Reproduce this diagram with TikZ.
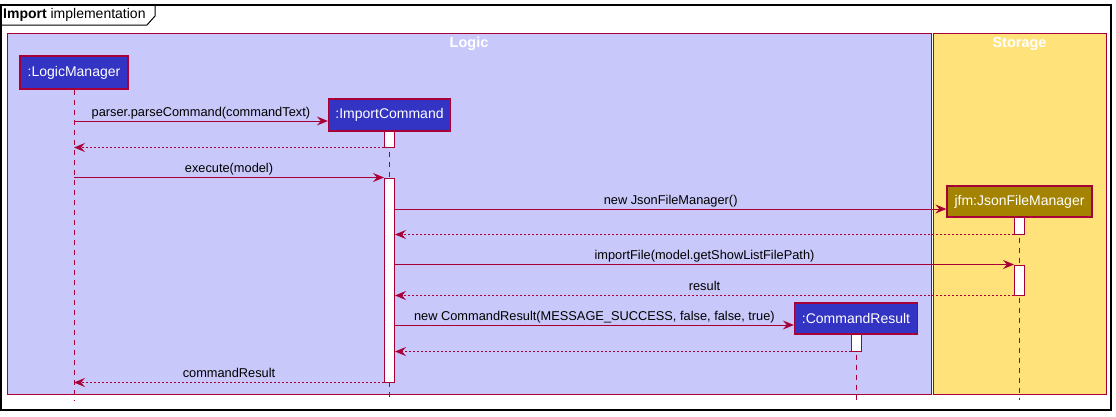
\documentclass[tikz,border=0pt]{standalone}
\usepackage{fontspec}
\setmainfont{Liberation Sans}
\usetikzlibrary{arrows.meta,positioning,calc}
\definecolor{umlred}{HTML}{A80036}
\definecolor{logicblue}{HTML}{3333C4}
\definecolor{softlogic}{HTML}{C8C8FA}
\definecolor{storagegold}{HTML}{A38300}
\definecolor{softstorage}{HTML}{FFE27A}

\tikzset{
  actor/.style={draw=umlred, line width=1.3pt, text=white, font=\fontsize{14}{16}\selectfont, inner sep=0pt},
  actbar/.style={draw=umlred, fill=white, line width=1pt, minimum width=10pt, inner sep=0pt},
  lifeline/.style={draw=umlred, line width=1pt, dash pattern=on 5pt off 5pt},
  call/.style={draw=umlred, line width=1pt, -{Stealth[length=11pt,width=9pt,inset=4pt]}},
  reply/.style={call, dash pattern=on 2pt off 2pt},
  msglabel/.style={above, inner sep=1.5pt, text depth=2.7pt, font=\fontsize{12.8}{15}\selectfont},
  grouptitle/.style={text=white, font=\bfseries\fontsize{14.5}{16}\selectfont},
}

\begin{document}
\begin{tikzpicture}[x=1pt,y=-1pt]
  \useasboundingbox (0,0) rectangle (1116,416);
  % frame and tab
  \draw[line width=1.5pt] (1,5) rectangle (1111,410);
  \draw[line width=1pt] (1,25) -- (147,25) -- (155,16) -- (155,5);
  \node[anchor=west, inner sep=0pt, font=\fontsize{14}{16}\selectfont] at (3,15) {\textbf{Import} implementation};

  % groups
  \draw[fill=softlogic, draw=umlred, line width=1pt] (7,33) rectangle (931,394);
  \draw[fill=softstorage, draw=umlred, line width=1pt] (933.5,33) rectangle (1106,394);
  \node[grouptitle] at (469,44) {Logic};
  \node[grouptitle] at (1019.5,44) {Storage};

  % participants
  \node[actor, fill=logicblue, minimum width=108pt, minimum height=33pt] (lm) at (74,72.5) {:LogicManager};
  \node[actor, fill=logicblue, minimum width=122pt, minimum height=32pt] (ic) at (389.5,115) {:ImportCommand};
  \node[actor, fill=storagegold, minimum width=145pt, minimum height=31pt] (jfm) at (1019.5,201.5) {jfm:JsonFileManager};
  \node[actor, fill=logicblue, minimum width=123pt, minimum height=31pt] (cr) at (856,318.5) {:CommandResult};

  % lifelines
  \coordinate (lmend) at (74,400);
  \coordinate (icend) at (389.5,400);
  \coordinate (jfmend) at (1019.5,400);
  \coordinate (crend) at (856,400);
  \draw[lifeline] (lm) -- (lmend);
  \draw[lifeline] (ic) -- (icend);
  \draw[lifeline] (jfm) -- (jfmend);
  \draw[lifeline] (cr) -- (crend);

  % activations
  \node[actbar, minimum height=16pt] (act1) at (389.5,139) {};
  \node[actbar, minimum height=204pt] (act2) at (389.5,280) {};
  \node[actbar, minimum height=17pt] (act3) at (1019.5,225.5) {};
  \node[actbar, minimum height=30pt] (act4) at (1019.5,280) {};
  \node[actbar, minimum height=17pt] (act5) at (856,342.5) {};

  % messages
  \coordinate (m1) at (0,121);
  \coordinate (m3) at (0,209);
  \coordinate (m7) at (0,325);
  \draw[call] (lm |- m1) -- (ic.west |- m1) node[msglabel, midway] {parser.parseCommand(commandText)};
  \draw[reply] (act1.south west) -- (lm |- act1.south west);
  \draw[call] (lm |- act2.north west) -- (act2.north west) node[msglabel, midway] {execute(model)};
  \draw[call] (act2.east |- m3) -- (jfm.west |- m3) node[msglabel, midway] {new JsonFileManager()};
  \draw[reply] (act3.south west) -- (act2.east |- act3.south west);
  \draw[call] (act2.east |- act4.north west) -- (act4.north west) node[msglabel, midway] {importFile(model.getShowListFilePath)};
  \draw[reply] (act4.south west) -- (act2.east |- act4.south west) node[msglabel, midway] {result};
  \draw[call] (act2.east |- m7) -- (cr.west |- m7) node[msglabel, midway] {new CommandResult(MESSAGE\_SUCCESS, false, false, true)};
  \draw[reply] (act5.south west) -- (act2.east |- act5.south west);
  \draw[reply] (act2.south west) -- (lm |- act2.south west) node[msglabel, midway] {commandResult};
\end{tikzpicture}
\end{document}
